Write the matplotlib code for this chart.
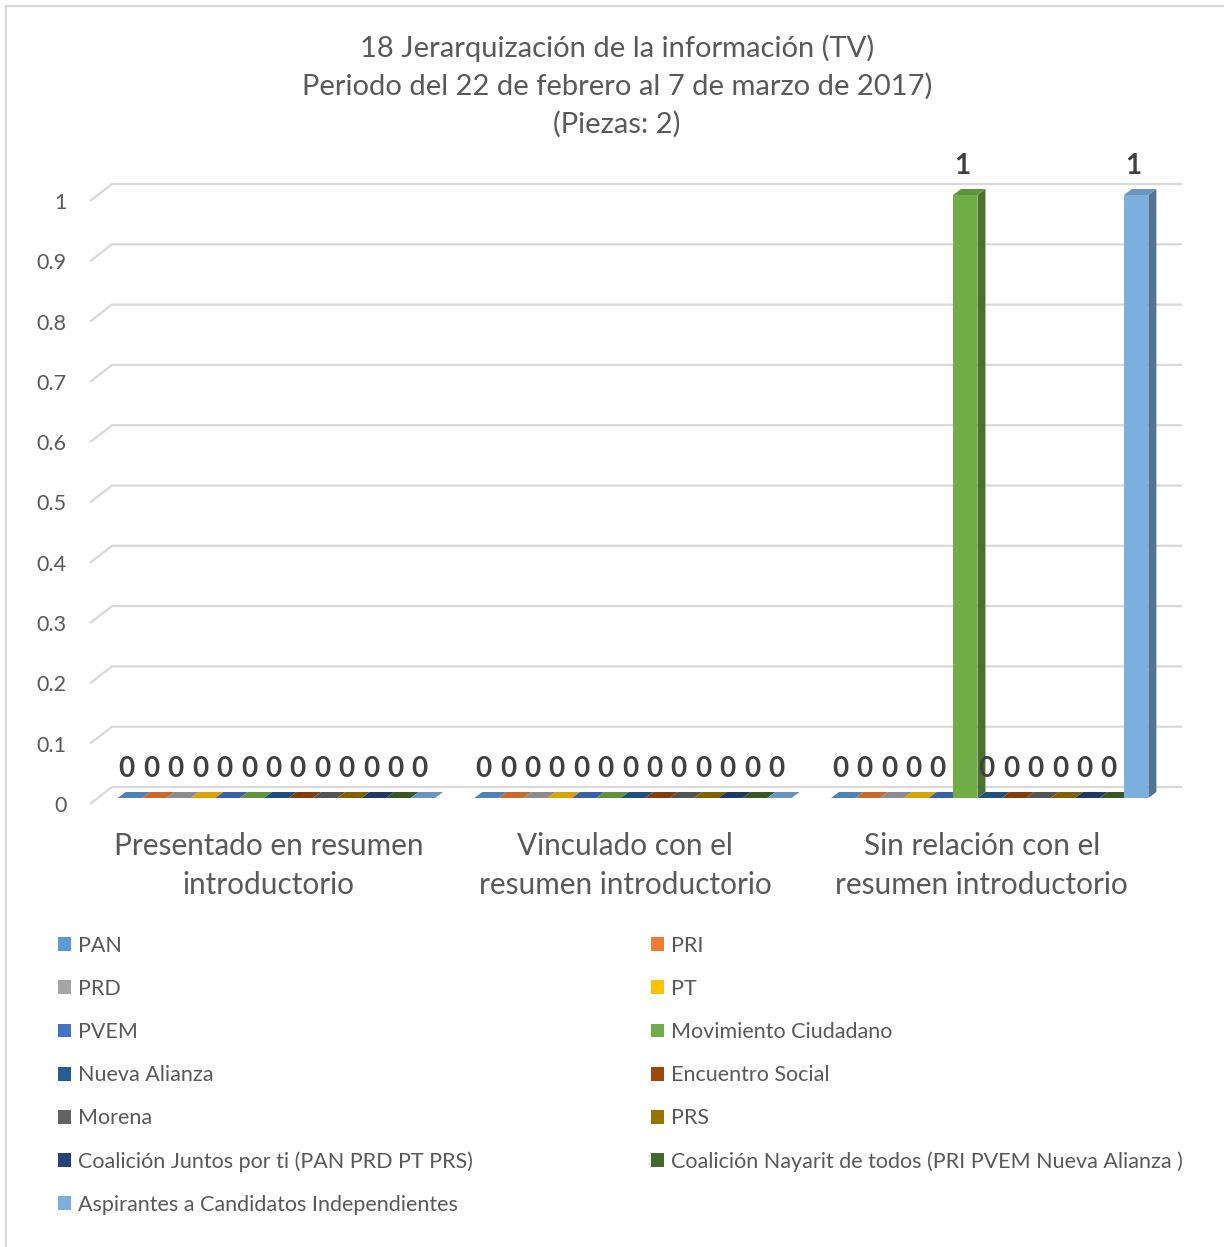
import matplotlib
matplotlib.use('Agg')
import matplotlib.pyplot as plt
from matplotlib.patches import Polygon, Patch, Rectangle
from matplotlib.colors import to_rgb

plt.rcParams['font.family'] = ['Lato', 'DejaVu Sans']

titulo = ('18 Jerarquización de la información (TV)\n'
          'Periodo del 22 de febrero al 7 de marzo de 2017)\n'
          '(Piezas: 2)')

categorias = ['Presentado en resumen\nintroductorio',
              'Vinculado con el\nresumen introductorio',
              'Sin relación con el\nresumen introductorio']

partidos = ['PAN', 'PRI', 'PRD', 'PT', 'PVEM', 'Movimiento Ciudadano',
            'Nueva Alianza', 'Encuentro Social', 'Morena', 'PRS',
            'Coalición Juntos por ti (PAN PRD PT PRS)',
            'Coalición Nayarit de todos (PRI PVEM Nueva Alianza )',
            'Aspirantes a Candidatos Independientes']

colores = ['#5B9BD5', '#ED7D31', '#A5A5A5', '#FFC000', '#4472C4', '#70AD47',
           '#255E91', '#9E480E', '#636363', '#997300', '#264478', '#43682B',
           '#7CAFDD']

# valores por partido en cada categoría
valores = [
    [0, 0, 0],  # PAN
    [0, 0, 0],  # PRI
    [0, 0, 0],  # PRD
    [0, 0, 0],  # PT
    [0, 0, 0],  # PVEM
    [0, 0, 1],  # Movimiento Ciudadano
    [0, 0, 0],  # Nueva Alianza
    [0, 0, 0],  # Encuentro Social
    [0, 0, 0],  # Morena
    [0, 0, 0],  # PRS
    [0, 0, 0],  # Coalición Juntos por ti
    [0, 0, 0],  # Coalición Nayarit de todos
    [0, 0, 1],  # Aspirantes
]

yticks = [0, 0.1, 0.2, 0.3, 0.4, 0.5, 0.6, 0.7, 0.8, 0.9, 1]

W, H = 1224, 1247
gris_texto = '#595959'
gris_linea = '#d9d9d9'

fig = plt.figure(figsize=(W / 100, H / 100), dpi=100)
ax = fig.add_axes([90 / W, (H - 804) / H, (1160 - 90) / W, (804 - 201) / H])
ax.set_xlim(-0.5, 2.5)
ax.set_ylim(0, 1)
for s in ax.spines.values():
    s.set_visible(False)
ax.patch.set_visible(False)

# profundidad en pixeles: pared del fondo y caras de las barras
fondo = (22, 17)
frente_barra = (8, 6)
fondo_barra = (16, 12)


def px(x, y, d=(0, 0)):
    xd, yd = ax.transData.transform((x, y))
    return (xd + d[0], yd + d[1])


def oscuro(c, f):
    r, g, b = to_rgb(c)
    return (r * f, g * f, b * f)


def cara(puntos, color, z=3):
    ax.add_patch(Polygon(puntos, facecolor=color, edgecolor='none',
                         transform=None, zorder=z, clip_on=False))


# rejilla en la pared del fondo y su trazo inclinado en el frente
for t in yticks:
    ax.add_patch(Polygon([px(-0.5, t), px(-0.5, t, fondo), px(2.5, t, fondo)],
                         closed=False, fill=False, edgecolor=gris_linea,
                         lw=1.6, transform=None, zorder=1, clip_on=False))

ax.set_yticks(yticks)
ax.set_yticklabels([f'{t:g}' for t in yticks])
ax.set_xticks(range(len(categorias)))
ax.set_xticklabels(categorias)
ax.tick_params(axis='y', length=0, pad=17, labelsize=15.5, labelcolor=gris_texto)
ax.tick_params(axis='x', length=0, pad=20, labelsize=21.4, labelcolor=gris_texto)
for lab in ax.get_xticklabels():
    lab.set_linespacing(1.5)

n = len(partidos)
ancho_grupo = 0.89
w = ancho_grupo / n

for i in range(len(categorias)):
    for k in range(n):
        v = valores[k][i]
        x0 = i - ancho_grupo / 2 + k * w
        c = colores[k]
        if v > 0:
            # cara frontal
            cara([px(x0, 0, frente_barra), px(x0 + w, 0, frente_barra),
                  px(x0 + w, v, frente_barra), px(x0, v, frente_barra)], c)
            # cara lateral
            cara([px(x0 + w, 0, frente_barra), px(x0 + w, 0, fondo_barra),
                  px(x0 + w, v, fondo_barra), px(x0 + w, v, frente_barra)],
                 oscuro(c, 0.66))
        # cara superior
        cara([px(x0, v, frente_barra), px(x0 + w, v, frente_barra),
              px(x0 + w, v, fondo_barra), px(x0, v, fondo_barra)], oscuro(c, 0.85))
        ax.annotate(f'{v:g}', xy=(x0 + w / 2, v), xytext=(5, 35),
                    textcoords='offset pixels', ha='center', va='center',
                    fontsize=20, fontweight='bold', color='#404040', zorder=4,
                    annotation_clip=False)

fig.text(617 / W, 1 - 86 / H, titulo, ha='center', va='center', fontsize=21,
         color=gris_texto, linespacing=1.5)

orden = [0, 2, 4, 6, 8, 10, 12, 1, 3, 5, 7, 9, 11]
handles = [Patch(facecolor=colores[j], edgecolor='none', label=partidos[j]) for j in orden]
fig.legend(handles=handles, ncol=2, loc='upper left',
           bbox_to_anchor=(58 / W, 1 - 936 / H), frameon=False, fontsize=15.5,
           labelcolor=gris_texto, handlelength=0.62, handleheight=0.62,
           handletextpad=0.32, labelspacing=1.07, columnspacing=8.25,
           borderpad=0, borderaxespad=0)

fig.add_artist(Rectangle((6 / W, -0.5), 2, 1.5 - 6 / H, fill=False,
                         edgecolor=gris_linea, lw=1.5, transform=fig.transFigure))

fig.savefig('out.png', dpi=100)
